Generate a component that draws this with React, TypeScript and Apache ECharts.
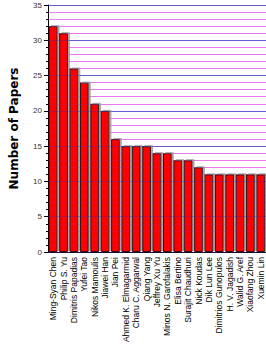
import React, { useEffect, useRef } from "react";
import * as echarts from "echarts";

const authors = [
  "Ming-Syan Chen", "Philip S. Yu", "Dimitris Papadias", "Yufei Tao", "Nikos Mamoulis",
  "Jiawei Han", "Jian Pei", "Ahmed K. Elmagarmid", "Charu C. Aggarwal", "Qiang Yang",
  "Jeffrey Xu Yu", "Minos N. Garofalakis", "Elisa Bertino", "Surajit Chaudhuri", "Nick Koudas",
  "Dik Lun Lee", "Dimitrios Gunopulos", "H. V. Jagadish", "Walid G. Aref", "Xiaofang Zhou", "Xuemin Lin",
];
const papers = [32, 31, 26, 24, 21, 20, 16, 15, 15, 15, 14, 14, 13, 13, 12, 11, 11, 11, 11, 11, 11];
const yTicks = [0, 5, 10, 15, 20, 25, 30, 35];

export default function App() {
  const ref = useRef<HTMLDivElement>(null);
  useEffect(() => {
    const chart = echarts.init(ref.current!, null, { renderer: "svg" });
    const yMin = yTicks[0];
    const yMax = yTicks[yTicks.length - 1];
    chart.setOption({
      animation: false,
      grid: { left: 36, right: 0, top: 5, bottom: 94 },
      xAxis: {
        type: "category",
        data: authors,
        axisLine: { lineStyle: { color: "#000", width: 1 } },
        axisTick: { alignWithLabel: true, length: 3, lineStyle: { color: "#000" } },
        axisLabel: {
          rotate: 90, interval: 0, fontSize: 8.5, color: "#000",
          fontFamily: "Liberation Sans, Arial, sans-serif", margin: 5,
        },
      },
      yAxis: [
        {
          type: "value",
          min: yMin,
          max: yMax,
          interval: 5,
          name: "Number of Papers",
          nameLocation: "middle",
          nameGap: 28,
          nameTextStyle: { fontSize: 12, fontWeight: "bold", color: "#000", fontFamily: "DejaVu Sans, sans-serif" },
          axisLine: { show: true, lineStyle: { color: "#000", width: 1 } },
          axisTick: { show: true, length: 4, lineStyle: { color: "#000" } },
          minorTick: { show: true, splitNumber: 5, length: 2, lineStyle: { color: "#000" } },
          axisLabel: { fontSize: 8, color: "#333", fontFamily: "Liberation Sans Narrow, Arial Narrow, sans-serif", margin: 6 },
          splitLine: { show: true, lineStyle: { color: "#7878f0", width: 1 } },
          minorSplitLine: { show: true, lineStyle: { color: "#ff88ff", width: 1 } },
        },
        {
          type: "value",
          min: yMin,
          max: yMax,
          interval: 5,
          position: "left",
          z: 3,
          axisLine: { show: false },
          axisTick: { show: false },
          axisLabel: { show: false },
          splitLine: { show: true, lineStyle: { color: "rgba(60,40,160,0.35)", width: 1 } },
          minorSplitLine: { show: true, lineStyle: { color: "rgba(160,40,160,0.18)", width: 1 } },
        },
      ],
      series: [
        {
          type: "bar",
          data: papers,
          yAxisIndex: 0,
          barCategoryGap: "16%",
          itemStyle: {
            color: "#ff0000",
            borderColor: "#3a1010",
            borderWidth: 1,
            shadowColor: "#a8a8a8",
            shadowOffsetX: 2,
            shadowOffsetY: -1,
            shadowBlur: 0,
          },
        },
      ],
    });
    return () => chart.dispose();
  }, []);
  return <div ref={ref} style={{ width: 266, height: 346, position: "absolute", left: 0, top: 0, background: "#fff" }} />;
}
